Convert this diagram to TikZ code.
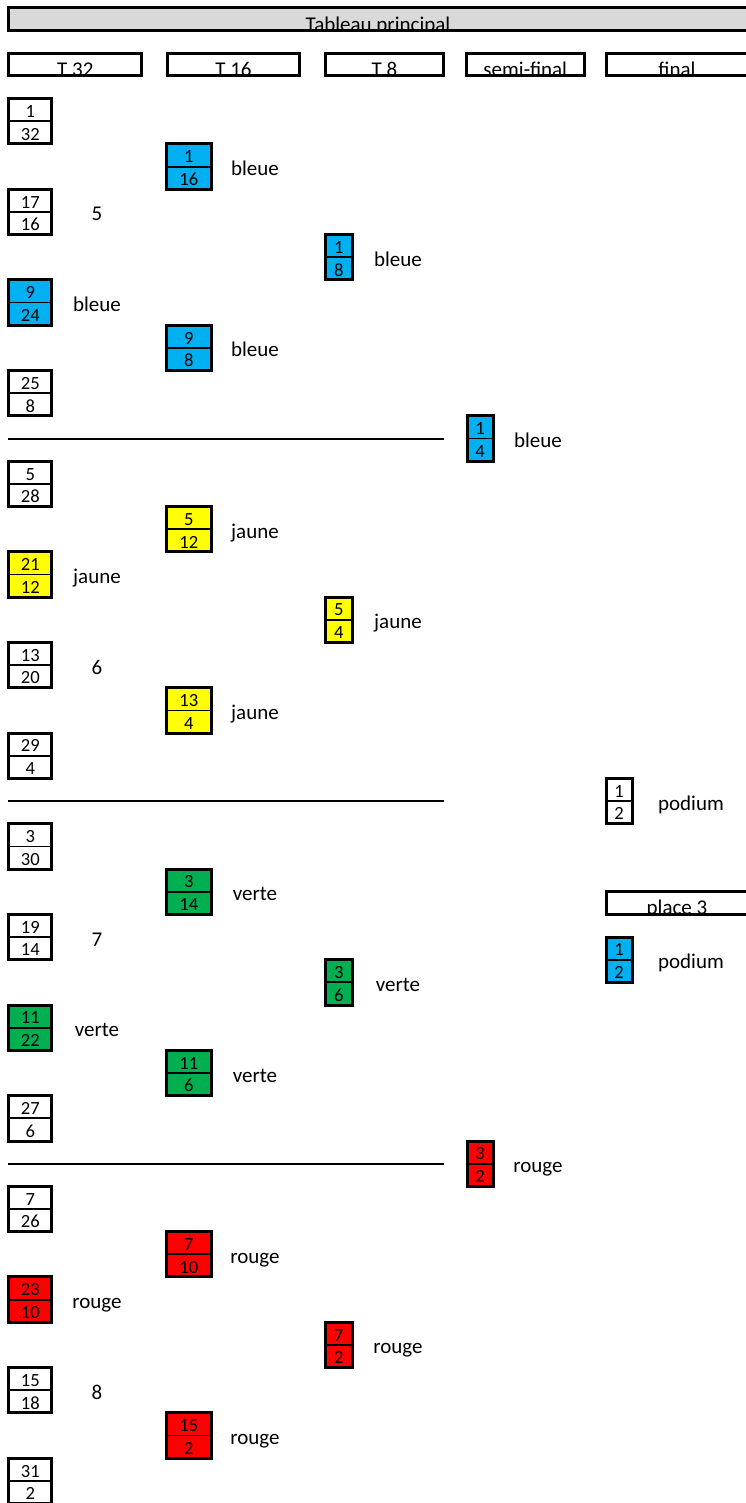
\documentclass[tikz,border=0pt]{standalone}
\usepackage{fontspec}
\setmainfont{Carlito}
\usetikzlibrary{calc}

\definecolor{bleue}{HTML}{00B0F0}
\definecolor{jaune}{HTML}{FFFF00}
\definecolor{verte}{HTML}{00B050}
\definecolor{rouge}{HTML}{FF0000}
\definecolor{titlegray}{HTML}{D9D9D9}

\tikzset{
  cell/.style={rectangle, draw, line width=1.8pt, inner sep=0pt, outer sep=0pt,
    minimum height=22.66pt, text height=15pt, text depth=0pt,
    font=\fontsize{18.6}{21}\selectfont},
  boxline/.style={line width=3pt},
  headline/.style={line width=3pt},
  headtext/.style={inner sep=0pt, anchor=base, font=\fontsize{21}{25}\selectfont},
  colorlabel/.style={inner sep=0pt, anchor=base, font=\fontsize{21}{25}\selectfont},
  sepline/.style={line width=2pt}
}

% name, x, width, row, top, bottom, fill
\newcommand{\matchbox}[7]{%
  \node[cell, fill=#7, minimum width=#3pt, anchor=north west] (#1top) at (#2,{8+22.66*#4}) {#5};
  \node[cell, fill=#7, minimum width=#3pt, anchor=north west] (#1bot) at (#1top.south west) {#6};
  \draw[boxline] (#1top.north west) rectangle (#1bot.south east);}

% name, left, right, row, text, fill
\newcommand{\headcell}[6]{%
  \coordinate (#1nw) at (#2,{8+22.66*#4});
  \coordinate (#1se) at (#3,{8+22.66*(#4+1)});
  \begin{scope}
    \clip (#1nw) rectangle (#1se);
    \fill[#6] (#1nw) rectangle (#1se);
    \node[headtext] (#1) at ({(#2+#3)/2},{8+22.66*(#4+1)+0.5}) {#5};
  \end{scope}
  \draw[headline] (#1nw) rectangle (#1se);}

\begin{document}
\begin{tikzpicture}[x=1pt, y=-1pt]
      \useasboundingbox (0,0) rectangle (745,1503);

      \headcell{title}{8.8}{747.2}{0}{Tableau principal}{titlegray}
      \headcell{hT32}{8.8}{141.8}{2}{T 32}{white}
      \headcell{hT16}{167.5}{299.5}{2}{T 16}{white}
      \headcell{hT8}{325.5}{443.5}{2}{T 8}{white}
      \headcell{hsemi}{466.5}{584}{2}{semi-final}{white}
      \headcell{hfinal}{606.5}{747.5}{2}{final}{white}

      % T 32
      \matchbox{a1}{8.8}{43}{4}{1}{32}{white}
      \matchbox{a2}{8.8}{43}{8}{17}{16}{white}
      \matchbox{a3}{8.8}{43}{12}{9}{24}{bleue}
      \matchbox{a4}{8.8}{43}{16}{25}{8}{white}
      \matchbox{a5}{8.8}{43}{20}{5}{28}{white}
      \matchbox{a6}{8.8}{43}{24}{21}{12}{jaune}
      \matchbox{a7}{8.8}{43}{28}{13}{20}{white}
      \matchbox{a8}{8.8}{43}{32}{29}{4}{white}
      \matchbox{a9}{8.8}{43}{36}{3}{30}{white}
      \matchbox{a10}{8.8}{43}{40}{19}{14}{white}
      \matchbox{a11}{8.8}{43}{44}{11}{22}{verte}
      \matchbox{a12}{8.8}{43}{48}{27}{6}{white}
      \matchbox{a13}{8.8}{43}{52}{7}{26}{white}
      \matchbox{a14}{8.8}{43}{56}{23}{10}{rouge}
      \matchbox{a15}{8.8}{43}{60}{15}{18}{white}
      \matchbox{a16}{8.8}{43}{64}{31}{2}{white}

      \node[colorlabel] (la2) at (97,{8+22.66*9+9}) {5};
      \node[colorlabel] (la3) at (97,{8+22.66*13+9}) {bleue};
      \node[colorlabel] (la6) at (97,{8+22.66*25+9}) {jaune};
      \node[colorlabel] (la7) at (97,{8+22.66*29+9}) {6};
      \node[colorlabel] (la10) at (97,{8+22.66*41+9}) {7};
      \node[colorlabel] (la11) at (97,{8+22.66*45+9}) {verte};
      \node[colorlabel] (la14) at (97,{8+22.66*57+9}) {rouge};
      \node[colorlabel] (la15) at (97,{8+22.66*61+9}) {8};

      % T 16
      \matchbox{b1}{166.5}{44.5}{6}{1}{16}{bleue}
      \matchbox{b2}{166.5}{44.5}{14}{9}{8}{bleue}
      \matchbox{b3}{166.5}{44.5}{22}{5}{12}{jaune}
      \matchbox{b4}{166.5}{44.5}{30}{13}{4}{jaune}
      \matchbox{b5}{166.5}{44.5}{38}{3}{14}{verte}
      \matchbox{b6}{166.5}{44.5}{46}{11}{6}{verte}
      \matchbox{b7}{166.5}{44.5}{54}{7}{10}{rouge}
      \matchbox{b8}{166.5}{44.5}{62}{15}{2}{rouge}

      \node[colorlabel] (lb1) at (255,{8+22.66*7+9}) {bleue};
      \node[colorlabel] (lb2) at (255,{8+22.66*15+9}) {bleue};
      \node[colorlabel] (lb3) at (255,{8+22.66*23+9}) {jaune};
      \node[colorlabel] (lb4) at (255,{8+22.66*31+9}) {jaune};
      \node[colorlabel] (lb5) at (255,{8+22.66*39+9}) {verte};
      \node[colorlabel] (lb6) at (255,{8+22.66*47+9}) {verte};
      \node[colorlabel] (lb7) at (255,{8+22.66*55+9}) {rouge};
      \node[colorlabel] (lb8) at (255,{8+22.66*63+9}) {rouge};

      % T 8
      \matchbox{c1}{325.5}{26.5}{10}{1}{8}{bleue}
      \matchbox{c2}{325.5}{26.5}{26}{5}{4}{jaune}
      \matchbox{c3}{325.5}{26.5}{42}{3}{6}{verte}
      \matchbox{c4}{325.5}{26.5}{58}{7}{2}{rouge}

      \node[colorlabel] (lc1) at (398,{8+22.66*11+9}) {bleue};
      \node[colorlabel] (lc2) at (398,{8+22.66*27+9}) {jaune};
      \node[colorlabel] (lc3) at (398,{8+22.66*43+9}) {verte};
      \node[colorlabel] (lc4) at (398,{8+22.66*59+9}) {rouge};

      % semi-final
      \matchbox{d1}{467}{26}{18}{1}{4}{bleue}
      \matchbox{d2}{467}{26}{50}{3}{2}{rouge}

      \node[colorlabel] (ld1) at (538,{8+22.66*19+9}) {bleue};
      \node[colorlabel] (ld2) at (538,{8+22.66*51+9}) {rouge};

      % final
      \matchbox{e1}{606}{26}{34}{1}{2}{white}
      \headcell{hplace}{606.5}{747.5}{39}{place 3}{white}
      \matchbox{e2}{606}{26}{41}{1}{2}{bleue}

      \node[colorlabel] (le1) at (691,{8+22.66*35+9}) {podium};
      \node[colorlabel] (le2) at (691,{8+22.66*42+9}) {podium};

      \coordinate (s1a) at (8,{8+22.66*19});
      \coordinate (s1b) at (444,{8+22.66*19});
      \coordinate (s2a) at (8,{8+22.66*35});
      \coordinate (s2b) at (444,{8+22.66*35});
      \coordinate (s3a) at (8,{8+22.66*51});
      \coordinate (s3b) at (444,{8+22.66*51});
      \draw[sepline] (s1a) -- (s1b);
      \draw[sepline] (s2a) -- (s2b);
      \draw[sepline] (s3a) -- (s3b);

\end{tikzpicture}
\end{document}
